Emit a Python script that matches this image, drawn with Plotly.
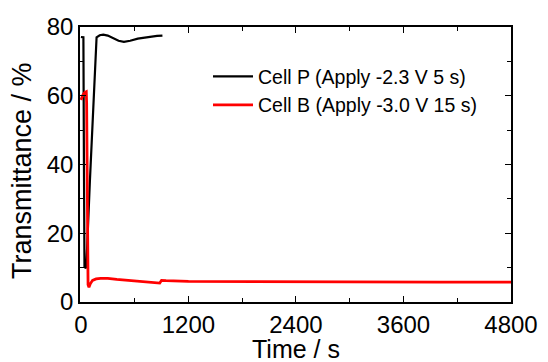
import plotly.graph_objects as go

# Cell P (black)
t_p = [0, 28, 34, 40, 55, 62, 100, 140, 175, 210, 250, 300, 350, 420, 480, 550, 635, 700, 780, 850, 910]
T_p = [77.1, 77.0, 40, 10.3, 9.8, 11.0, 35, 57, 77.0, 77.6, 77.8, 77.5, 76.8, 76.0, 75.7, 76.0, 76.6, 76.9, 77.2, 77.4, 77.5]

# Cell B (red)
t_b = [0, 10, 25, 45, 60, 64, 68, 73, 80, 90, 105, 130, 170, 220, 300, 400, 520, 700, 880, 900, 950, 1200, 2000, 3000, 4000, 4800]
T_b = [58.8, 59.5, 60.4, 61.0, 61.2, 58, 35, 10, 5.0, 4.3, 5.3, 6.3, 6.7, 6.9, 6.9, 6.6, 6.3, 5.9, 5.5, 6.3, 6.2, 6.0, 5.9, 5.8, 5.8, 5.8]

x_ticks = [0, 1200, 2400, 3600, 4800]
y_ticks = [0, 20, 40, 60, 80]

names = ["Cell P (Apply -2.3 V 5 s)", "Cell B (Apply -3.0 V 15 s)"]
x_title = "Time / s"
y_title = "Transmittance / %"

FONT = "Arial, Liberation Sans, sans-serif"

fig = go.Figure()
fig.add_trace(go.Scatter(x=t_p, y=T_p, mode="lines", name=names[0],
                         line=dict(color="black", width=2.2)))
fig.add_trace(go.Scatter(x=t_b, y=T_b, mode="lines", name=names[1],
                         line=dict(color="#ff0000", width=2.8)))

axis_common = dict(showline=True, linecolor="black", linewidth=1.5, mirror="ticks",
                   ticks="inside", ticklen=6, tickwidth=1.3, tickcolor="black",
                   showgrid=False, zeroline=False, automargin=False,
                   tickfont=dict(family=FONT, size=24, color="black"))

fig.update_xaxes(range=[-10, 4800], tickvals=x_ticks, ticktext=[str(v) for v in x_ticks],
                 minor=dict(dtick=600, tick0=0, ticks="inside", ticklen=4, tickcolor="black", showgrid=False),
                 **axis_common)
fig.update_yaxes(range=[0, 80], tickvals=y_ticks, ticktext=[str(v) for v in y_ticks],
                 minor=dict(dtick=10, tick0=0, ticks="inside", ticklen=4, tickcolor="black", showgrid=False),
                 **axis_common)

fig.add_annotation(text=x_title, xref="paper", yref="paper", x=0.5, y=-0.172,
                   xanchor="center", yanchor="middle", showarrow=False, borderpad=0,
                   font=dict(family=FONT, size=25, color="black"))
fig.add_annotation(text=y_title, xref="paper", yref="paper", x=-0.1346, y=0.48,
                   xanchor="center", yanchor="middle", textangle=-90, showarrow=False,
                   font=dict(family=FONT, size=27, color="black"))

fig.update_layout(
    width=548, height=362,
    margin=dict(l=80, r=37, t=27, b=60),
    paper_bgcolor="white", plot_bgcolor="white",
    font=dict(family=FONT, color="black"),
    legend=dict(x=0.297, y=0.89, xanchor="left", yanchor="top",
                bgcolor="rgba(0,0,0,0)", font=dict(family=FONT, size=19.5, color="black"),
                tracegroupgap=0, itemwidth=40),
)

fig.write_html("out.html")
